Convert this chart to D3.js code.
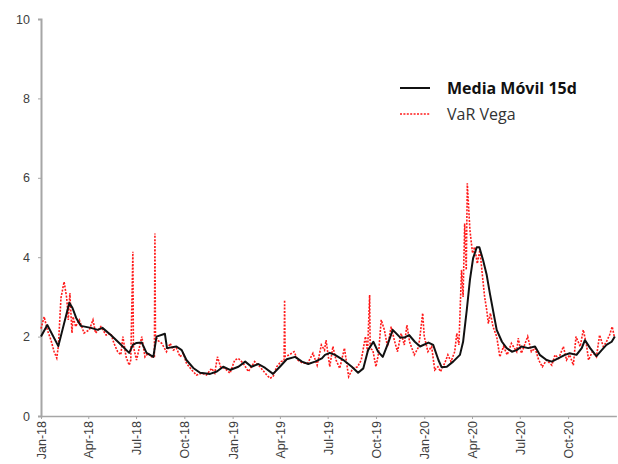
<!DOCTYPE html>
<html>
<head>
<meta charset="utf-8">
<script src="https://cdn.jsdelivr.net/npm/d3@7"></script>
<style>
  body { margin: 0; background: #fff; }
  svg { display: block; }
</style>
</head>
<body>
<svg id="chart" width="618" height="464"></svg>
<script>
// ---- data ----
const yTicks = [0, 2, 4, 6, 8, 10];
const xTickDates = ["2018-01-01","2018-04-01","2018-07-01","2018-10-01","2019-01-01","2019-04-01","2019-07-01","2019-10-01","2020-01-01","2020-04-01","2020-07-01","2020-10-01"];
const xTickLabels = ["Jan-18","Apr-18","Jul-18","Oct-18","Jan-19","Apr-19","Jul-19","Oct-19","Jan-20","Apr-20","Jul-20","Oct-20"];
const seriesNames = ["Media Móvil 15d", "VaR Vega"];

const maDates = ["2018-01-01","2018-01-13","2018-02-03","2018-02-24","2018-03-02","2018-03-09","2018-03-18","2018-04-06","2018-04-19","2018-04-28","2018-05-14","2018-05-30","2018-06-18","2018-06-25","2018-07-02","2018-07-12","2018-07-21","2018-08-03","2018-08-09","2018-08-25","2018-08-29","2018-09-16","2018-09-26","2018-10-05","2018-10-18","2018-10-31","2018-11-19","2018-12-02","2018-12-14","2018-12-27","2019-01-12","2019-01-25","2019-02-06","2019-02-19","2019-03-04","2019-03-19","2019-04-01","2019-04-14","2019-04-30","2019-05-13","2019-05-25","2019-06-07","2019-06-20","2019-06-26","2019-07-05","2019-07-15","2019-07-31","2019-08-16","2019-08-28","2019-09-07","2019-09-16","2019-09-26","2019-10-05","2019-10-14","2019-10-24","2019-11-02","2019-11-16","2019-11-25","2019-12-03","2019-12-14","2019-12-24","2020-01-09","2020-01-18","2020-01-28","2020-02-03","2020-02-13","2020-02-25","2020-03-09","2020-03-15","2020-03-22","2020-03-28","2020-04-03","2020-04-10","2020-04-15","2020-04-22","2020-04-29","2020-05-05","2020-05-12","2020-05-18","2020-05-28","2020-06-06","2020-06-16","2020-06-25","2020-07-04","2020-07-17","2020-07-30","2020-08-08","2020-08-21","2020-08-31","2020-09-12","2020-09-25","2020-10-04","2020-10-17","2020-10-27","2020-11-02","2020-11-12","2020-11-24","2020-12-04","2020-12-13","2020-12-23","2020-12-29"];
const maValues = [2.0,2.29,1.76,2.85,2.72,2.47,2.27,2.22,2.17,2.22,2.04,1.84,1.59,1.79,1.84,1.85,1.59,1.49,2.0,2.07,1.71,1.75,1.66,1.41,1.21,1.09,1.06,1.12,1.24,1.16,1.24,1.37,1.24,1.31,1.21,1.06,1.24,1.43,1.49,1.37,1.31,1.37,1.45,1.54,1.59,1.54,1.41,1.24,1.09,1.2,1.66,1.87,1.62,1.49,1.83,2.17,1.98,1.98,2.04,1.87,1.75,1.85,1.79,1.41,1.23,1.24,1.37,1.54,1.87,2.67,3.43,3.97,4.25,4.25,3.93,3.55,3.09,2.59,2.17,1.87,1.71,1.62,1.66,1.75,1.71,1.75,1.54,1.41,1.37,1.45,1.54,1.58,1.54,1.71,1.91,1.71,1.51,1.66,1.79,1.87,2.0];

const varDates = ["2018-01-01","2018-01-07","2018-01-13","2018-01-20","2018-01-26","2018-01-31","2018-02-03","2018-02-08","2018-02-14","2018-02-19","2018-02-22","2018-02-25","2018-03-01","2018-03-03","2018-03-08","2018-03-15","2018-03-24","2018-04-03","2018-04-10","2018-04-15","2018-04-25","2018-05-05","2018-05-14","2018-05-20","2018-05-27","2018-06-02","2018-06-06","2018-06-12","2018-06-18","2018-06-21","2018-06-25","2018-06-26","2018-07-02","2018-07-12","2018-07-18","2018-07-24","2018-07-31","2018-08-05","2018-08-06","2018-08-07","2018-08-12","2018-08-19","2018-08-28","2018-09-04","2018-09-10","2018-09-16","2018-09-23","2018-09-29","2018-10-05","2018-10-15","2018-10-24","2018-11-03","2018-11-12","2018-11-22","2018-11-28","2018-12-03","2018-12-09","2018-12-17","2018-12-27","2019-01-05","2019-01-12","2019-01-21","2019-01-31","2019-02-12","2019-02-22","2019-03-04","2019-03-13","2019-03-19","2019-03-26","2019-04-03","2019-04-09","2019-04-10","2019-04-11","2019-04-19","2019-04-28","2019-05-05","2019-05-15","2019-05-24","2019-06-03","2019-06-11","2019-06-19","2019-06-25","2019-06-28","2019-07-05","2019-07-11","2019-07-17","2019-07-24","2019-08-02","2019-08-10","2019-08-18","2019-08-27","2019-09-03","2019-09-11","2019-09-15","2019-09-19","2019-09-20","2019-09-25","2019-10-01","2019-10-06","2019-10-11","2019-10-17","2019-10-23","2019-10-30","2019-11-05","2019-11-11","2019-11-18","2019-11-24","2019-11-29","2019-12-04","2019-12-13","2019-12-20","2019-12-23","2019-12-29","2020-01-01","2020-01-08","2020-01-15","2020-01-21","2020-01-27","2020-02-01","2020-02-09","2020-02-15","2020-02-21","2020-02-28","2020-03-03","2020-03-07","2020-03-12","2020-03-15","2020-03-18","2020-03-21","2020-03-23","2020-03-28","2020-04-02","2020-04-06","2020-04-11","2020-04-16","2020-04-21","2020-04-25","2020-04-29","2020-05-02","2020-05-06","2020-05-11","2020-05-18","2020-05-24","2020-05-31","2020-06-07","2020-06-15","2020-06-25","2020-06-28","2020-07-04","2020-07-09","2020-07-16","2020-07-23","2020-07-30","2020-08-06","2020-08-13","2020-08-21","2020-08-31","2020-09-06","2020-09-13","2020-09-22","2020-09-28","2020-10-04","2020-10-11","2020-10-16","2020-10-24","2020-10-30","2020-11-05","2020-11-09","2020-11-16","2020-11-24","2020-11-30","2020-12-07","2020-12-13","2020-12-19","2020-12-24","2020-12-28"];
const varValues = [2.2,2.5,2.17,1.91,1.62,1.46,1.75,2.97,3.38,2.97,2.42,3.1,2.09,2.5,2.25,2.42,2.09,2.17,2.42,2.09,2.25,2.04,2.08,1.83,1.62,1.54,2.0,1.49,1.28,1.41,4.14,1.75,1.41,2.0,1.49,1.58,1.49,1.5,4.6,2.0,1.9,1.83,1.62,1.83,1.66,1.71,1.49,1.58,1.33,1.16,1.03,1.08,1.03,1.2,1.08,1.49,1.24,1.2,1.08,1.41,1.45,1.33,1.12,1.37,1.24,1.08,0.95,0.99,1.24,1.37,1.4,2.92,1.5,1.54,1.62,1.41,1.33,1.33,1.58,1.28,1.79,1.66,1.91,1.24,1.75,1.41,1.2,1.71,0.99,1.2,1.24,1.41,2.0,1.62,3.05,1.7,1.66,1.24,1.58,2.42,2.17,1.75,2.25,1.91,1.62,2.08,1.79,2.29,1.87,1.54,1.71,1.91,2.59,2.0,1.62,1.75,1.16,1.24,1.12,1.33,1.54,1.37,1.62,2.08,1.79,3.68,3.0,4.85,3.68,5.86,4.68,4.1,4.26,3.84,4.18,3.51,3.0,2.67,2.33,2.59,2.25,2.0,1.49,1.75,1.54,1.83,1.62,1.96,1.58,1.75,2.0,1.62,1.71,1.41,1.24,1.41,1.28,1.54,1.45,1.75,1.41,1.54,1.28,2.0,1.75,2.17,1.79,1.41,1.62,1.49,2.04,1.75,1.87,2.04,2.25,2.0];

// ---- chart ----
const parse = d3.timeParse("%Y-%m-%d");
const svg = d3.select("#chart");
const mLeft = 41, mTop = 19, mBottom = 416;
const x = d3.scaleTime()
  .domain([parse("2018-01-01"), parse("2021-01-01")])
  .range([mLeft, 616.4]);
const y = d3.scaleLinear().domain([0, 10]).range([mBottom, mTop]);

const n1 = Math.min(maDates.length, maValues.length);
const n2 = Math.min(varDates.length, varValues.length);
const ma = maDates.slice(0, n1).map((d, i) => ({ date: parse(d), value: maValues[i] }));
const vv = varDates.slice(0, n2).map((d, i) => ({ date: parse(d), value: varValues[i] }));

const line = d3.line().x(d => x(d.date)).y(d => y(d.value));

// Y axis
const yAxis = d3.axisLeft(y).tickValues(yTicks).tickSize(3).tickPadding(8).tickFormat(d3.format("d"));
const gy = svg.append("g").attr("transform", `translate(${mLeft},0)`).call(yAxis);
gy.select(".domain").attr("stroke", "#a6a6a6").attr("stroke-width", 2);
gy.selectAll(".tick line").attr("stroke", "#a6a6a6");
gy.selectAll(".tick text").attr("fill", "#404040").style("font-family", "'Liberation Sans', Arial, sans-serif").style("font-size", "12.5px");

// X axis
const xAxis = d3.axisBottom(x).tickValues(xTickDates.map(parse))
  .tickFormat((d, i) => xTickLabels[i]).tickSize(3).tickSizeOuter(0);
const gx = svg.append("g").attr("transform", `translate(0,${mBottom})`).call(xAxis);
gx.select(".domain").attr("stroke", "#a6a6a6").attr("stroke-width", 1.5);
gx.selectAll(".tick line").attr("stroke", "#a6a6a6");
gx.selectAll(".tick text")
  .attr("fill", "#404040")
  .style("font-family", "'Liberation Sans', Arial, sans-serif")
  .style("font-size", "12.5px")
  .attr("transform", "rotate(-90)")
  .attr("text-anchor", "end")
  .attr("x", -5)
  .attr("y", 0)
  .attr("dy", "0.35em");

// Series
svg.append("path").datum(vv)
  .attr("fill", "none").attr("stroke", "#ff1a1a").attr("stroke-width", 1.6)
  .attr("stroke-dasharray", "2,1.4")
  .attr("d", line);
svg.append("path").datum(ma)
  .attr("fill", "none").attr("stroke", "#111").attr("stroke-width", 2)
  .attr("stroke-linejoin", "round")
  .attr("d", line);

// Legend
const lg = svg.append("g");
lg.append("line").attr("x1", 400).attr("x2", 430).attr("y1", 88).attr("y2", 88)
  .attr("stroke", "#111").attr("stroke-width", 2);
lg.append("line").attr("x1", 400).attr("x2", 430).attr("y1", 114).attr("y2", 114)
  .attr("stroke", "#ff1a1a").attr("stroke-width", 1.6).attr("stroke-dasharray", "2,1.4");
lg.append("text").attr("x", 447).attr("y", 94).text(seriesNames[0])
  .attr("fill", "#111").style("font-family", "'Open Sans', sans-serif").style("font-weight", "bold").style("font-size", "16px");
lg.append("text").attr("x", 447).attr("y", 120).text(seriesNames[1])
  .attr("fill", "#333").style("font-family", "'Open Sans', sans-serif").style("font-size", "16px");
</script>
</body>
</html>
